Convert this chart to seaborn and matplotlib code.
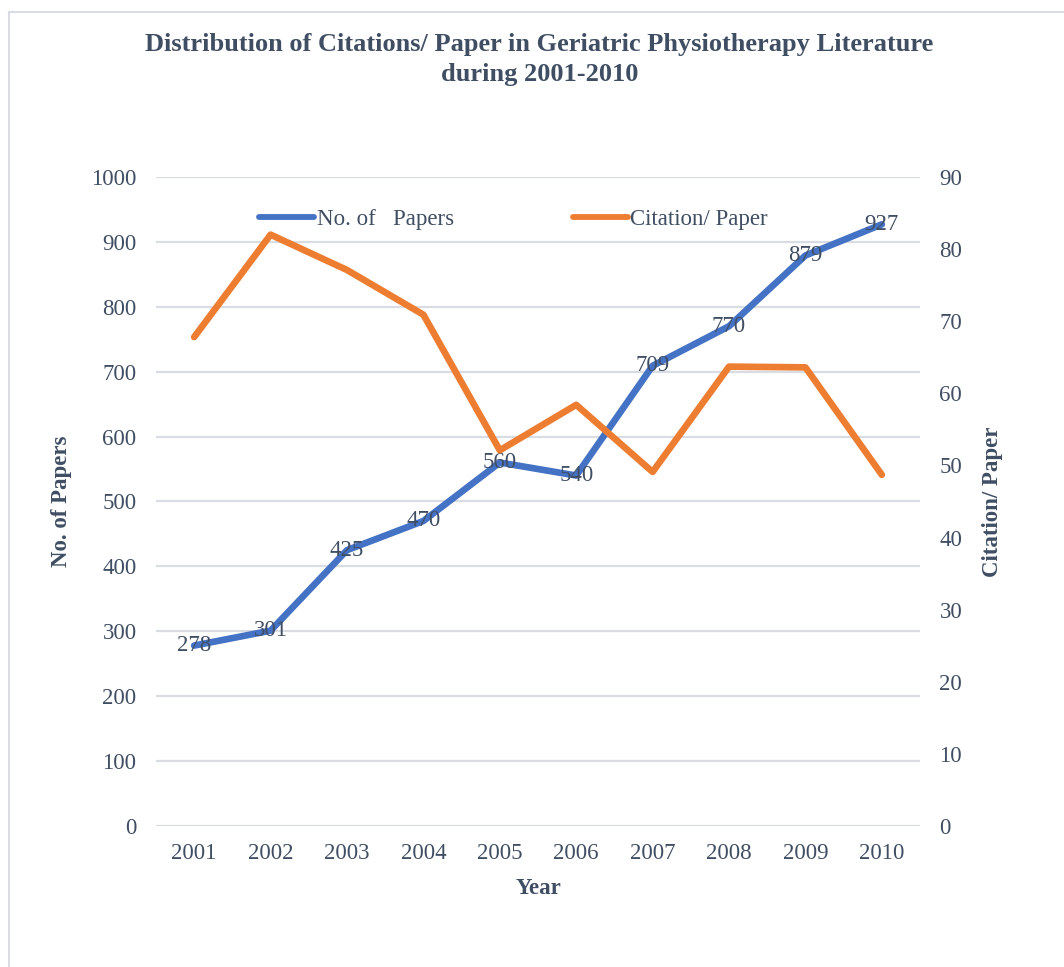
import matplotlib
matplotlib.use('Agg')
import matplotlib.pyplot as plt
import seaborn as sns
import pandas as pd
from matplotlib.lines import Line2D
from matplotlib.patches import Rectangle

# Data
years = ['2001', '2002', '2003', '2004', '2005', '2006', '2007', '2008', '2009', '2010']
papers = [278, 301, 425, 470, 560, 540, 709, 770, 879, 927]
citations_per_paper = [67.8, 82.0, 77.1, 70.9, 52.1, 58.4, 49.1, 63.7, 63.6, 48.7]

df = pd.DataFrame({'Year': years, 'Papers': papers, 'CPP': citations_per_paper})

blue = '#4472C4'
orange = '#ED7D31'
text_col = '#3F4E63'
grid_col = '#D9DDE3'

sns.set_theme(style='white')
plt.rcParams['font.family'] = ['Liberation Serif', 'DejaVu Serif']

fig = plt.figure(figsize=(10.64, 9.67), dpi=100)
ax = fig.add_axes([0.1466, 0.1458, 0.7181, 0.6712])

sns.lineplot(data=df, x='Year', y='Papers', ax=ax, color=blue, linewidth=4.8,
             sort=False, solid_capstyle='round')
ax2 = ax.twinx()
sns.lineplot(data=df, x='Year', y='CPP', ax=ax2, color=orange, linewidth=4.8,
             sort=False, solid_capstyle='round')

ax.set_xlim(-0.5, 9.5)
ax.set_ylim(0, 1000)
ax2.set_ylim(0, 90)
ax.set_yticks(range(0, 1001, 100))
ax2.set_yticks(range(0, 91, 10))

ax.grid(axis='y', color=grid_col, linewidth=1.6)
ax.set_axisbelow(True)
for a in (ax, ax2):
    for s in a.spines.values():
        s.set_visible(False)

ax.tick_params(axis='y', length=0, pad=14, labelsize=16.5, labelcolor=text_col)
ax.tick_params(axis='x', length=0, pad=12, labelsize=16.5, labelcolor=text_col)
ax2.tick_params(axis='y', length=0, pad=14, labelsize=16.5, labelcolor=text_col)

ax.set_xlabel('Year', fontsize=16.5, fontweight='bold', color=text_col, labelpad=10)
ax.set_ylabel('No. of Papers', fontsize=16.5, fontweight='bold', color=text_col, labelpad=14)
ax2.set_ylabel('Citation/ Paper', fontsize=16.5, fontweight='bold', color=text_col, labelpad=14)

# data labels
for i, v in enumerate(papers):
    ax.text(i, v, str(v), ha='center', va='center', fontsize=16.5, color=text_col, zorder=5)

# legend
handles = [Line2D([], [], color=blue, linewidth=4.2, solid_capstyle='round'),
           Line2D([], [], color=orange, linewidth=4.2, solid_capstyle='round')]
ax.legend(handles, ['No. of   Papers', 'Citation/ Paper'], loc='center',
          bbox_to_anchor=(0.468, 0.934), ncol=2, frameon=False, fontsize=16.5,
          labelcolor=text_col, handlelength=2.4, handletextpad=0.1, columnspacing=5.2)

fig.suptitle('Distribution of Citations/ Paper in Geriatric Physiotherapy Literature\nduring 2001-2010',
             x=0.507, y=0.966, fontsize=19, fontweight='bold', color=text_col, linespacing=1.4)

# chart frame
fig.patches.append(Rectangle((9 / 1064, -0.1), 1.2, 1 - 12 / 967 + 0.1, transform=fig.transFigure,
                             fill=False, edgecolor='#D9DDE3', linewidth=1.5))

fig.savefig('out.png', dpi=100)
